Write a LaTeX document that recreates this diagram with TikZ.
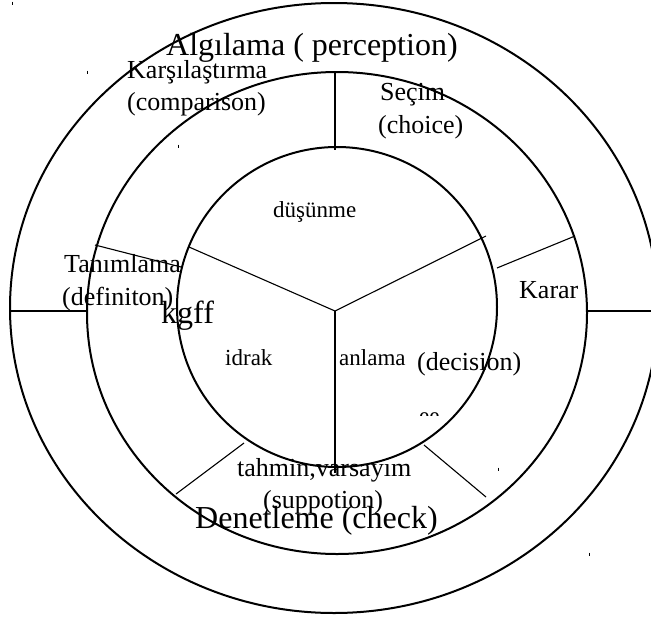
\documentclass[tikz,border=0pt]{standalone}
\usepackage{fontspec}
\setmainfont{Liberation Serif}
\usetikzlibrary{positioning}

\begin{document}
\begin{tikzpicture}[
    x=1pt, y=-1pt,
    ring/.style={line width=2pt},
    spoke/.style={line width=1.1pt},
    speck/.style={line width=1pt},
    label/.style={anchor=base west, inner sep=0pt},
    bigtext/.style={label, font=\fontsize{32}{32}\selectfont},
    midtext/.style={label, font=\fontsize{26}{26}\selectfont},
    smalltext/.style={label, font=\fontsize{23}{23}\selectfont}
]
    \useasboundingbox (0,0) rectangle (651,619);
    \clip (0,0) rectangle (651,619);

    % rings
    \draw[ring] (334,308) ellipse [x radius=324pt, y radius=305pt];
    \draw[ring] (337,313) ellipse [x radius=250pt, y radius=241pt];
    \draw[ring] (337,307) ellipse [x radius=160pt, y radius=160pt];

    % spoke ends
    \coordinate (ctr) at (335,311);
    \coordinate (midtop) at (335,72);
    \coordinate (inntop) at (335,150);
    \coordinate (innul) at (189,247);
    \coordinate (innur) at (486,236);
    \coordinate (innbot) at (335,473);
    \coordinate (ulout) at (95,245);
    \coordinate (ulin) at (181,267);
    \coordinate (urin) at (497,268);
    \coordinate (urout) at (575,236);
    \coordinate (llin) at (244,443);
    \coordinate (llout) at (176,494);
    \coordinate (lrin) at (424,445);
    \coordinate (lrout) at (486,497);
    \coordinate (leftout) at (10,311);
    \coordinate (leftin) at (87,311);
    \coordinate (rightin) at (588,311);
    \coordinate (rightout) at (660,311);

    \draw[spoke] (midtop) -- (inntop);
    \draw[spoke] (ctr) -- (innul);
    \draw[spoke] (ctr) -- (innur);
    \draw[spoke] (ctr) -- (innbot);
    \draw[spoke] (ulout) -- (ulin);
    \draw[spoke] (urin) -- (urout);
    \draw[spoke] (llin) -- (llout);
    \draw[spoke] (lrin) -- (lrout);
    \draw[spoke] (leftout) -- (leftin);
    \draw[spoke] (rightin) -- (rightout);

    % specks
    \foreach \px/\py in {12/3, 87/72, 178/146, 498/469, 589/554}
        \draw[speck] (\px,\py-1.5) -- (\px,\py+1.5);

    % labels
    \node[bigtext] (algilama) at (166,55) {Algılama ( perception)};
    \node[midtext] (karsi) at (127,78) {Karşılaştırma};
    \node[midtext] (compar) at (127,110) {(comparison)};
    \node[midtext] (secim) at (380,100) {Seçim};
    \node[midtext] (choice) at (378,133) {(choice)};
    \node[smalltext] (dusun) at (273,217) {düşünme};
    \node[midtext] (tanim) at (64,272) {Tanımlama};
    \node[midtext] (defin) at (62,305) {(definiton)};
    \node[midtext] (karar) at (519,298) {Karar};
    \node[bigtext] (kgff) at (161,323) {kgff};
    \node[smalltext] (idrak) at (225,365) {idrak};
    \node[smalltext] (anlama) at (339,365) {anlama};
    \node[midtext] (decis) at (417,370) {(decision)};
    \node[midtext] (tahmin) at (237,476) {tahmin,varsayım};
    \node[midtext] (suppo) at (263,508) {(suppotion)};
    \node[bigtext] (denet) at (195,528) {Denetleme (check)};

    % cut-off text
    \begin{scope}
        \clip (410,405) rectangle (450,415);
        \node[smalltext] (cut) at (419,423) {ee};
    \end{scope}
\end{tikzpicture}
\end{document}
